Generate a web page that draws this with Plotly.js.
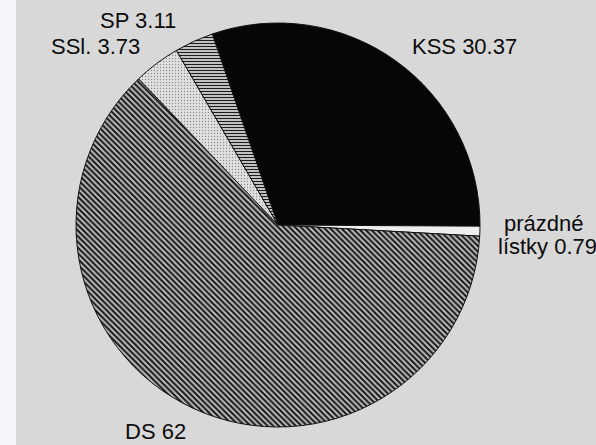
<!DOCTYPE html>
<html>
<head>
<meta charset="utf-8">
<script src="https://cdn.plot.ly/plotly-3.0.1.min.js"></script>
<style>
  html, body { margin: 0; padding: 0; background: #d8d8d8; }
  #chart { width: 596px; height: 445px; }
</style>
</head>
<body>
<div id="chart"></div>
<script>
// ---- data ----
const parties = ['KSS', 'prázdné lístky', 'DS', 'SSl.', 'SP'];
const shares = [30.37, 0.79, 62, 3.73, 3.11];

// ---- styles ----
const W = 596, H = 445;
const sliceColors = ['#060606', '#eeeeee', '#bdbdbd', '#dedede', '#d6d6d6'];
const patterns = [
  { shape: '' },
  { shape: '' },
  { shape: '\\', fgcolor: '#161616', bgcolor: '#bdbdbd', size: 4, solidity: 0.5 },
  { shape: '.', fgcolor: '#8a8a8a', bgcolor: '#e0e0e0', size: 3, solidity: 0.15 },
  { shape: '-', fgcolor: '#1c1c1c', bgcolor: '#dadada', size: 3, solidity: 0.42 }
];
// label line positions in pixels (centre x, centre y) per slice
const labelPos = [
  [[464, 47]],
  [[544, 223], [547, 246]],
  [[155, 431]],
  [[95, 46]],
  [[138, 20]]
];

const cx = 278, cy = 225, r = 202;

const trace = {
  type: 'pie',
  labels: parties,
  values: shares,
  sort: false,
  direction: 'clockwise',
  rotation: -19,
  textinfo: 'none',
  hoverinfo: 'label+value',
  showlegend: false,
  domain: {
    x: [(cx - r) / W, (cx + r) / W],
    y: [1 - (cy + r) / H, 1 - (cy - r) / H]
  },
  marker: {
    colors: sliceColors,
    line: { color: '#111111', width: 1 },
    pattern: {
      shape: patterns.map(p => p.shape),
      fgcolor: patterns.map(p => p.fgcolor || '#000'),
      bgcolor: patterns.map((p, i) => p.bgcolor || sliceColors[i]),
      size: patterns.map(p => p.size || 4),
      solidity: patterns.map(p => p.solidity || 0.3)
    }
  }
};

const annotations = [];
parties.forEach((name, i) => {
  const full = name + ' ' + shares[i];
  const lines = labelPos[i].length > 1 ? [name.split(' ')[0], name.split(' ').slice(1).join(' ') + ' ' + shares[i]] : [full];
  lines.forEach((txt, k) => {
    const p = labelPos[i][k];
    annotations.push({
      text: txt,
      xref: 'paper', yref: 'paper',
      x: p[0] / W, y: 1 - p[1] / H,
      xanchor: 'center', yanchor: 'middle',
      showarrow: false,
      font: { family: '"Liberation Sans", Arial, sans-serif', size: 22, color: '#0c0c0c' }
    });
  });
});

const layout = {
  width: W, height: H,
  margin: { l: 0, r: 0, t: 0, b: 0, pad: 0 },
  paper_bgcolor: '#d8d8d8',
  plot_bgcolor: '#d8d8d8',
  annotations: annotations,
  shapes: [{
    type: 'rect', xref: 'paper', yref: 'paper',
    x0: 0, x1: 16 / W, y0: 0, y1: 1,
    fillcolor: '#f4f6f9', line: { width: 0 }, layer: 'below'
  }]
};

Plotly.newPlot('chart', [trace], layout, { displayModeBar: false, staticPlot: true });
</script>
</body>
</html>
